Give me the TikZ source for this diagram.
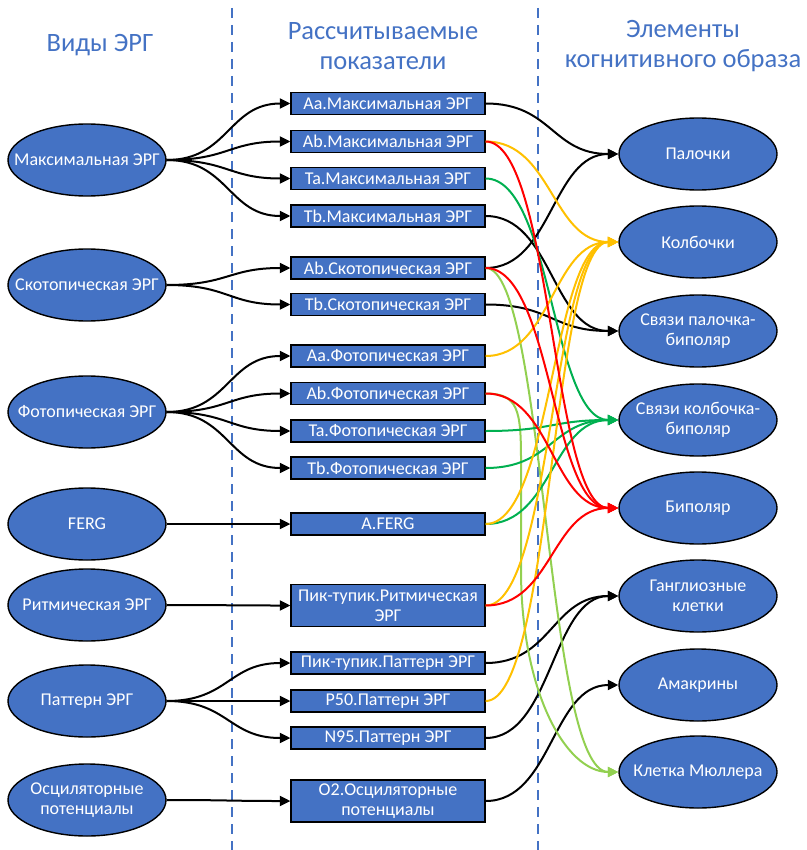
\documentclass[tikz,border=0pt]{standalone}
\usepackage{fontspec}
\setmainfont{Carlito}
\usetikzlibrary{arrows.meta,calc,shapes.geometric}
\definecolor{ublue}{HTML}{4472C4}
\definecolor{cred}{HTML}{FF0000}
\definecolor{cyel}{HTML}{FFC000}
\definecolor{cgrn}{HTML}{00B050}
\definecolor{clgr}{HTML}{92D050}
\def\cadj{0.5}
\begin{document}
\begin{tikzpicture}[x=1pt,y=-1pt,
  ell/.style={ellipse,draw=black,line width=1.4pt,fill=ublue,
    minimum width=158pt,minimum height=72pt,inner sep=0pt},
  lt/.style={text=white,font=\fontsize{18}{20.5}\selectfont,align=center},
  box/.style={rectangle,draw=black,line width=1.3pt,fill=ublue,
    minimum width=194pt,minimum height=22pt,inner sep=0pt,
    text=white,font=\fontsize{18}{20}\selectfont,align=center},
  tallbox/.style={box,minimum height=42pt},
  head/.style={text=ublue,font=\fontsize{26.5}{30}\selectfont,align=center},
  adj/.code={\def\cadj{#1}},
  % S-shaped connector: horizontal tangents at both ends, bend at a chosen x
  curv/.style={to path={let \p1=(\tikztostart), \p2=(\tikztotarget),
      \p3=($(\tikztostart)!\cadj!(\tikztotarget)$) in
      .. controls (\x3,\y1) and (\x3,\y2) .. (\tikztotarget) \tikztonodes}},
  tip/.style={-{Triangle[length=10.5pt,width=10pt]}},
  conn/.style={line width=2pt,tip,curv},
  sep/.style={ublue,line width=1.3pt,dash pattern=on 10pt off 7pt}]

\useasboundingbox (0,0) rectangle (806,850);

% column separators
\draw[sep] (232,8) -- (232,850);
\draw[sep] (538,8) -- (538,850);

% column headings
\node[head] (h1) at (100,45) {Виды ЭРГ};
\node[head] (h2) at (383,46) {Рассчитываемые\\показатели};
\node[head] (h3) at (683,46) {Элементы\\когнитивного образа};

% ERG types
\node[ell,label={[lt]center:Максимальная ЭРГ}] (L1) at (87,160) {};
\node[ell,label={[lt]center:Скотопическая ЭРГ}] (L2) at (87,285) {};
\node[ell,label={[lt]center:Фотопическая ЭРГ}] (L3) at (87,412) {};
\node[ell,label={[lt]center:FERG}] (L4) at (87,524) {};
\node[ell,label={[lt]center:Ритмическая ЭРГ}] (L5) at (87,605) {};
\node[ell,label={[lt]center:Паттерн ЭРГ}] (L6) at (87,701) {};
\node[ell,label={[lt]center:{Осциляторные\\потенциалы}}] (L7) at (87,800) {};

% computed indices
\node[box] (M1) at (388,103.5) {Aa.Максимальная ЭРГ};
\node[box] (M2) at (388,141.5) {Ab.Максимальная ЭРГ};
\node[box] (M3) at (388,178.5) {Ta.Максимальная ЭРГ};
\node[box] (M4) at (388,216) {Tb.Максимальная ЭРГ};
\node[box] (M5) at (388,268) {Ab.Скотопическая ЭРГ};
\node[box] (M6) at (388,304.5) {Tb.Скотопическая ЭРГ};
\node[box] (M7) at (388,356) {Aa.Фотопическая ЭРГ};
\node[box] (M8) at (388,393.5) {Ab.Фотопическая ЭРГ};
\node[box] (M9) at (388,431) {Ta.Фотопическая ЭРГ};
\node[box] (M10) at (388,468) {Tb.Фотопическая ЭРГ};
\node[box] (M11) at (388,524) {A.FERG};
\node[tallbox] (M12) at (388,605.5) {Пик-тупик.Ритмическая\\ЭРГ};
\node[box] (M13) at (388,663) {Пик-тупик.Паттерн ЭРГ};
\node[box] (M14) at (388,701) {P50.Паттерн ЭРГ};
\node[box] (M15) at (388,738) {N95.Паттерн ЭРГ};
\node[tallbox] (M16) at (388,801) {O2.Осциляторные\\потенциалы};

% elements of the cognitive image
\node[ell,label={[lt]center:Палочки}] (R1) at (698,154) {};
\node[ell,label={[lt]center:Колбочки}] (R2) at (698,242) {};
\node[ell,label={[lt]center:{Связи палочка-\\биполяр}}] (R3) at (698,331) {};
\node[ell,label={[lt]center:{Связи колбочка-\\биполяр}}] (R4) at (698,420) {};
\node[ell,label={[lt]center:Биполяр}] (R5) at (698,508) {};
\node[ell,label={[lt]center:{Ганглиозные\\клетки}}] (R6) at (698,596) {};
\node[ell,label={[lt]center:Амакрины}] (R7) at (698,685) {};
\node[ell,label={[lt]center:Клетка Мюллера}] (R8) at (698,772) {};

% ERG type -> index
\foreach \a/\b in {L1/M1,L1/M2,L1/M3,L1/M4,L2/M5,L2/M6,L3/M7,L3/M8,L3/M9,L3/M10,
                   L4/M11,L5/M12,L6/M13,L6/M14,L6/M15,L7/M16}
  \draw[conn] (\a.east) to (\b.west);

% index -> element
\foreach \a/\b in {M1/R1,M4/R3,M5/R1,M6/R3,M13/R6,M15/R6,M16/R7}
  \draw[conn] (\a.east) to (\b.west);
\draw[conn,clgr,adj=0.45] (M5.east) to (R8.west);
\draw[line width=2pt,tip,clgr] (M8.east)
  .. controls (518,393.5) and (521,410) .. (521,460) -- (521,570)
  .. controls (521,690) and (565,772) .. (R8.west);
\foreach \a in {M3,M9,M10,M11}
  \draw[conn,cgrn] (\a.east) to (R4.west);
\foreach \a in {M2,M7,M11,M12,M14}
  \draw[conn,cyel] (\a.east) to (R2.west);
\foreach \a in {M2,M5,M8,M12}
  \draw[conn,cred] (\a.east) to (R5.west);
\end{tikzpicture}
\end{document}
